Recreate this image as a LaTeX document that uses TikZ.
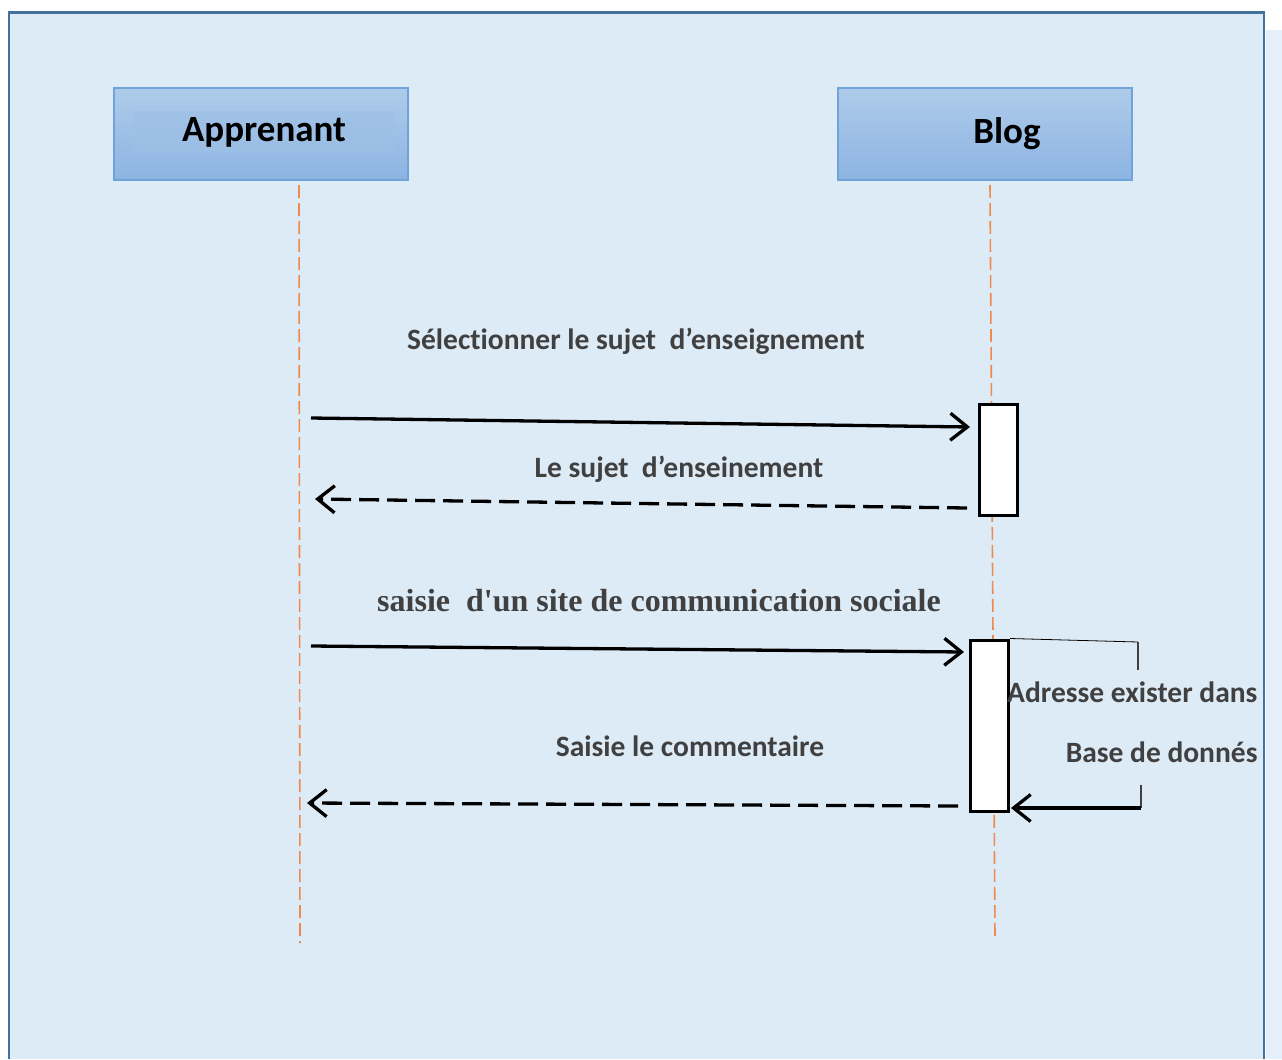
\documentclass[tikz,border=0pt]{standalone}
\usepackage{fontspec}
\setmainfont{Carlito}[Ligatures=NoCommon]
\newfontfamily\msgserif{Liberation Serif}
\usetikzlibrary{arrows.meta}

\definecolor{pagebg}{HTML}{DDEBF7}
\definecolor{framec}{HTML}{41719C}
\definecolor{boxtop}{HTML}{AECBEA}
\definecolor{boxbot}{HTML}{8DB4E2}
\definecolor{boxin}{HTML}{9DC0E6}
\definecolor{boxedge}{HTML}{6FA3DA}
\definecolor{lifec}{HTML}{EE8A4E}
\definecolor{labc}{HTML}{404040}

\tikzset{
  actor/.style={rectangle, minimum width=294pt, minimum height=92pt, inner sep=0pt,
    top color=boxtop, bottom color=boxbot, draw=boxedge, line width=1.5pt,
    font=\bfseries\fontsize{37}{44}\selectfont, text=black},
  lifeline/.style={draw=lifec, line width=1.6pt, dash pattern=on 13pt off 5pt},
  actbox/.style={rectangle, draw=black, fill=white, line width=3pt, minimum width=38pt, inner sep=0pt},
  tip/.style={-{Straight Barb[length=17pt,width=27pt]}},
  call/.style={tip, line width=3.3pt},
  reply/.style={tip, line width=3.3pt, dash pattern=on 20pt off 8pt},
  msglabel/.style={font=\bfseries\fontsize{29.5}{34}\selectfont, text=labc},
  serifmsg/.style={font=\msgserif\bfseries\fontsize{32}{38}\selectfont, text=labc},
  notelabel/.style={font=\bfseries\fontsize{29.5}{34}\selectfont, text=labc, anchor=east},
}

\begin{document}
\begin{tikzpicture}[x=1pt,y=-1pt]
  % canvas and frame
  \fill[white] (0,0) rectangle (1282,1059);
  \fill[pagebg] (9,12) rectangle (1264,1059);
  \fill[pagebg!80!white] (1266,30) rectangle (1282,1059);
  \draw[framec, line width=1.5pt] (9,1059) -- (9,12) -- (1264,12) -- (1264,1059);
  \draw[framec, line width=3pt] (9,13) -- (1264,13);
  \useasboundingbox (0,0) rectangle (1282,1059);

  % participants
  \node[actor] (app) at (261,134) {};
  \fill[boxin, opacity=0.6] (133,111) rectangle (395,152);
  \node[font=\bfseries\fontsize{37}{44}\selectfont] (appname) at (264,132) {Apprenant};
  \node[actor] (blog) at (985,134) {\hspace*{44pt}Blog};

  % lifelines
  \coordinate (appTop) at (299,185);
  \coordinate (appEnd) at (300,943);
  \coordinate (blogTop) at (990,185);
  \coordinate (blogEnd) at (995,938);
  \draw[lifeline] (appTop) -- (appEnd);
  \draw[lifeline] (blogTop) -- (blogEnd);

  % activation bars
  \node[actbox, minimum height=111pt] (act1) at (998,459.5) {};
  \node[actbox, minimum height=171pt] (act2) at (989.5,725.5) {};

  % message end points
  \coordinate (m1a) at (311,418);  \coordinate (m1b) at (970,427);
  \coordinate (m2a) at (967,508);  \coordinate (m2b) at (315,499);
  \coordinate (m3a) at (311,646);  \coordinate (m3b) at (964,652);
  \coordinate (m4a) at (958,806);  \coordinate (m4b) at (307,803);

  % messages
  \draw[call] (m1a) -- (m1b);
  \node[msglabel] (l1) at (636,341) {Sélectionner le sujet\ \ d’enseignement};
  \draw[reply] (m2a) -- (m2b);
  \node[msglabel] (l2) at (679,469) {Le sujet\ \ d’enseinement};
  \draw[call] (m3a) -- (m3b);
  \node[serifmsg] (l3) at (659,601) {saisie\ \ d'un site de communication sociale};
  \draw[reply] (m4a) -- (m4b);
  \node[msglabel] (l4) at (690,746) {Saisie le commentaire};

  % self call on the blog
  \coordinate (s1) at (1138,642);
  \coordinate (s2) at (1138,670);
  \coordinate (s3) at (1141,785);
  \coordinate (s4) at (1141,808);
  \coordinate (s5) at (1011,808);
  \draw[black, line width=0.8pt] (act2.north east) -- (s1);
  \draw[labc, line width=1.2pt] (s1) -- (s2);
  \draw[labc, line width=1.2pt] (s3) -- (s4);
  \draw[call] (s4) -- (s5);
  \node[notelabel] (n1) at (1261,692) {Adresse exister dans};
  \node[notelabel] (n2) at (1261,752) {Base de donnés};
\end{tikzpicture}
\end{document}
